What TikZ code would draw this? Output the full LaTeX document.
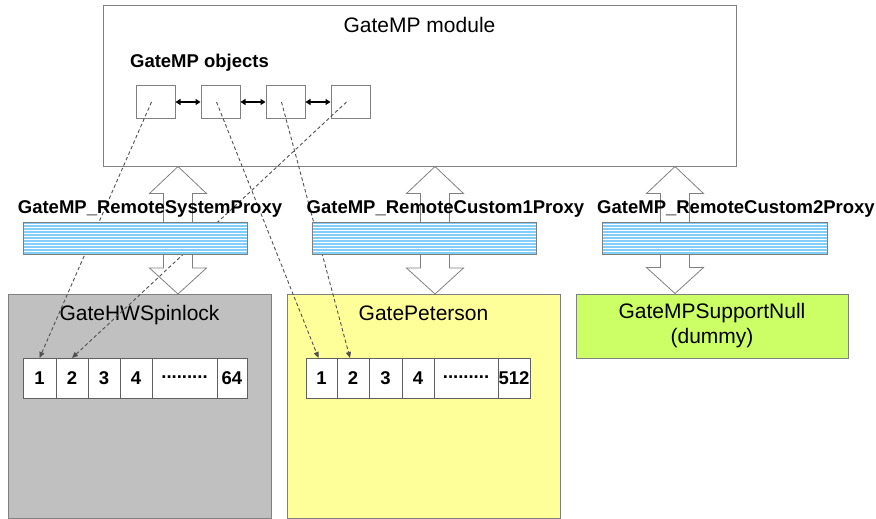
\documentclass[tikz,border=0pt]{standalone}
\usepackage{fontspec}
\setmainfont{Liberation Sans}
\usetikzlibrary{arrows.meta,positioning,calc}

\definecolor{frame}{RGB}{128,128,128}
\definecolor{stripe}{RGB}{130,205,250}
\definecolor{silverbox}{RGB}{192,192,192}
\definecolor{paleyellow}{RGB}{255,255,153}
\definecolor{limebox}{RGB}{204,255,102}
\definecolor{mapgray}{RGB}{80,80,80}

\newcommand\blockarrow[2]{%
  \draw[blockarr] let \p1=(#1), \p2=(#2) in
    (\x1,\y1) -- (\x1+28.5pt,\y1-27pt) -- (\x1+14.5pt,\y1-27pt)
    -- (\x1+14.5pt,\y2+26pt) -- (\x1+28.5pt,\y2+26pt) -- (\x1,\y2)
    -- (\x1-28.5pt,\y2+26pt) -- (\x1-14.5pt,\y2+26pt)
    -- (\x1-14.5pt,\y1-27pt) -- (\x1-28.5pt,\y1-27pt) -- cycle;}

\begin{document}
\begin{tikzpicture}[
  x=1pt, y=-1pt,
  node distance=25pt,
  title/.style={font=\fontsize{21}{25}\selectfont, inner sep=0pt},
  boldlabel/.style={font=\fontsize{18.5}{22}\selectfont\bfseries, inner sep=0pt},
  module/.style={draw=frame, line width=1pt, fill=white},
  objbox/.style={draw=frame, line width=1pt, fill=white, minimum width=39pt,
    minimum height=32pt, inner sep=0pt},
  gatebox/.style={draw=frame, line width=1pt, minimum height=224pt},
  cell/.style={draw=frame!75!black, fill=white, line width=0.8pt, minimum width=32pt,
    minimum height=40pt, inner sep=0pt, outer sep=0pt, text height=13.3pt, text depth=0pt,
    font=\fontsize{18.5}{22}\selectfont\bfseries},
  proxybar/.style={draw=frame, line width=0.8pt, fill=white, minimum width=224pt,
    minimum height=32pt, inner sep=0pt,
    path picture={\foreach \k in {0,...,10}
      \draw[stripe, line width=2pt] ($(path picture bounding box.north west)+(0,1+\k*3)$) -- ++(240,0);}},
  linkarr/.style={{Triangle[length=5pt,width=6pt]}-{Triangle[length=5pt,width=6pt]}, line width=1.2pt},
  mapline/.style={draw=mapgray, line width=0.9pt, dash pattern=on 3.5pt off 2.5pt,
    -{Triangle[length=6pt,width=5pt]}},
  blockarr/.style={draw=frame, fill=white, line width=0.8pt}
]
\useasboundingbox (0,0) rectangle (876,519);

\node[module, minimum width=633pt, minimum height=160pt] (module) at (419.5,86) {};
\node[title, anchor=base] (modtitle) at (419.5,33) {GateMP module};
\node[boldlabel, anchor=base] (objtitle) at (199.5,68) {GateMP objects};

\node[objbox] (obj1) at (155.5,102) {};
\node[objbox, right=of obj1] (obj2) {};
\node[objbox, right=of obj2] (obj3) {};
\node[objbox, right=of obj3] (obj4) {};
\draw[linkarr] (obj1) -- (obj2);
\draw[linkarr] (obj2) -- (obj3);
\draw[linkarr] (obj3) -- (obj4);

\node[gatebox, fill=silverbox, minimum width=263pt] (hwbox) at (139.5,406.5) {};
\node[gatebox, fill=paleyellow, minimum width=273pt] (petbox) at (423.5,406.5) {};
\node[draw=frame, line width=1pt, fill=limebox, minimum width=272pt, minimum height=64pt,
  align=center, font=\fontsize{21}{25}\selectfont] (nullbox) at (712,326) {GateMPSupportNull\\(dummy)};
\node[title, anchor=base] (hwtitle) at (139.5,320) {GateHWSpinlock};
\node[title, anchor=base] (pettitle) at (423.5,320) {GatePeterson};

\coordinate (ax1) at (178,0);
\coordinate (ax2) at (435,0);
\coordinate (ax3) at (675,0);
\blockarrow{module.south -| ax1}{hwbox.north -| ax1}
\blockarrow{module.south -| ax2}{petbox.north -| ax2}
\blockarrow{module.south -| ax3}{nullbox.north -| ax3}

\node[cell, anchor=north west, minimum width=33pt] (hw1) at (23,358) {1};
\node[cell, right=0pt of hw1] (hw2) {2};
\node[cell, right=0pt of hw2] (hw3) {3};
\node[cell, right=0pt of hw3] (hw4) {4};
\node[cell, right=0pt of hw4, minimum width=65pt] (hw5) {\raisebox{0.33em}{.........}};
\node[cell, right=0pt of hw5, minimum width=30pt] (hw6) {64};

\node[cell, anchor=north west, minimum width=31pt] (pt1) at (306,358) {1};
\node[cell, right=0pt of pt1] (pt2) {2};
\node[cell, right=0pt of pt2, minimum width=33pt] (pt3) {3};
\node[cell, right=0pt of pt3] (pt4) {4};
\node[cell, right=0pt of pt4, minimum width=64pt] (pt5) {\raisebox{0.33em}{.........}};
\node[cell, right=0pt of pt5] (pt6) {512};

\draw[mapline] ([xshift=-4pt]obj1.center) -- (hw1.north);
\draw[mapline] ([xshift=-4pt]obj4.center) -- (hw2.north);
\draw[mapline] ([xshift=-4pt]obj2.center) -- ([xshift=-3pt]pt1.north);
\draw[mapline] ([xshift=-4pt]obj3.center) -- ([xshift=-3pt]pt2.north);

\node[proxybar] (sysbar) at (135,238) {};
\node[proxybar] (cust1bar) at (424,238) {};
\node[proxybar, minimum width=225pt] (cust2bar) at (714.5,238) {};
\node[boldlabel, anchor=base] (syslabel) at (150,213) {GateMP\_RemoteSystemProxy};
\node[boldlabel, anchor=base] (cust1label) at (445.5,213) {GateMP\_RemoteCustom1Proxy};
\node[boldlabel, anchor=base] (cust2label) at (736,213) {GateMP\_RemoteCustom2Proxy};
\end{tikzpicture}
\end{document}
